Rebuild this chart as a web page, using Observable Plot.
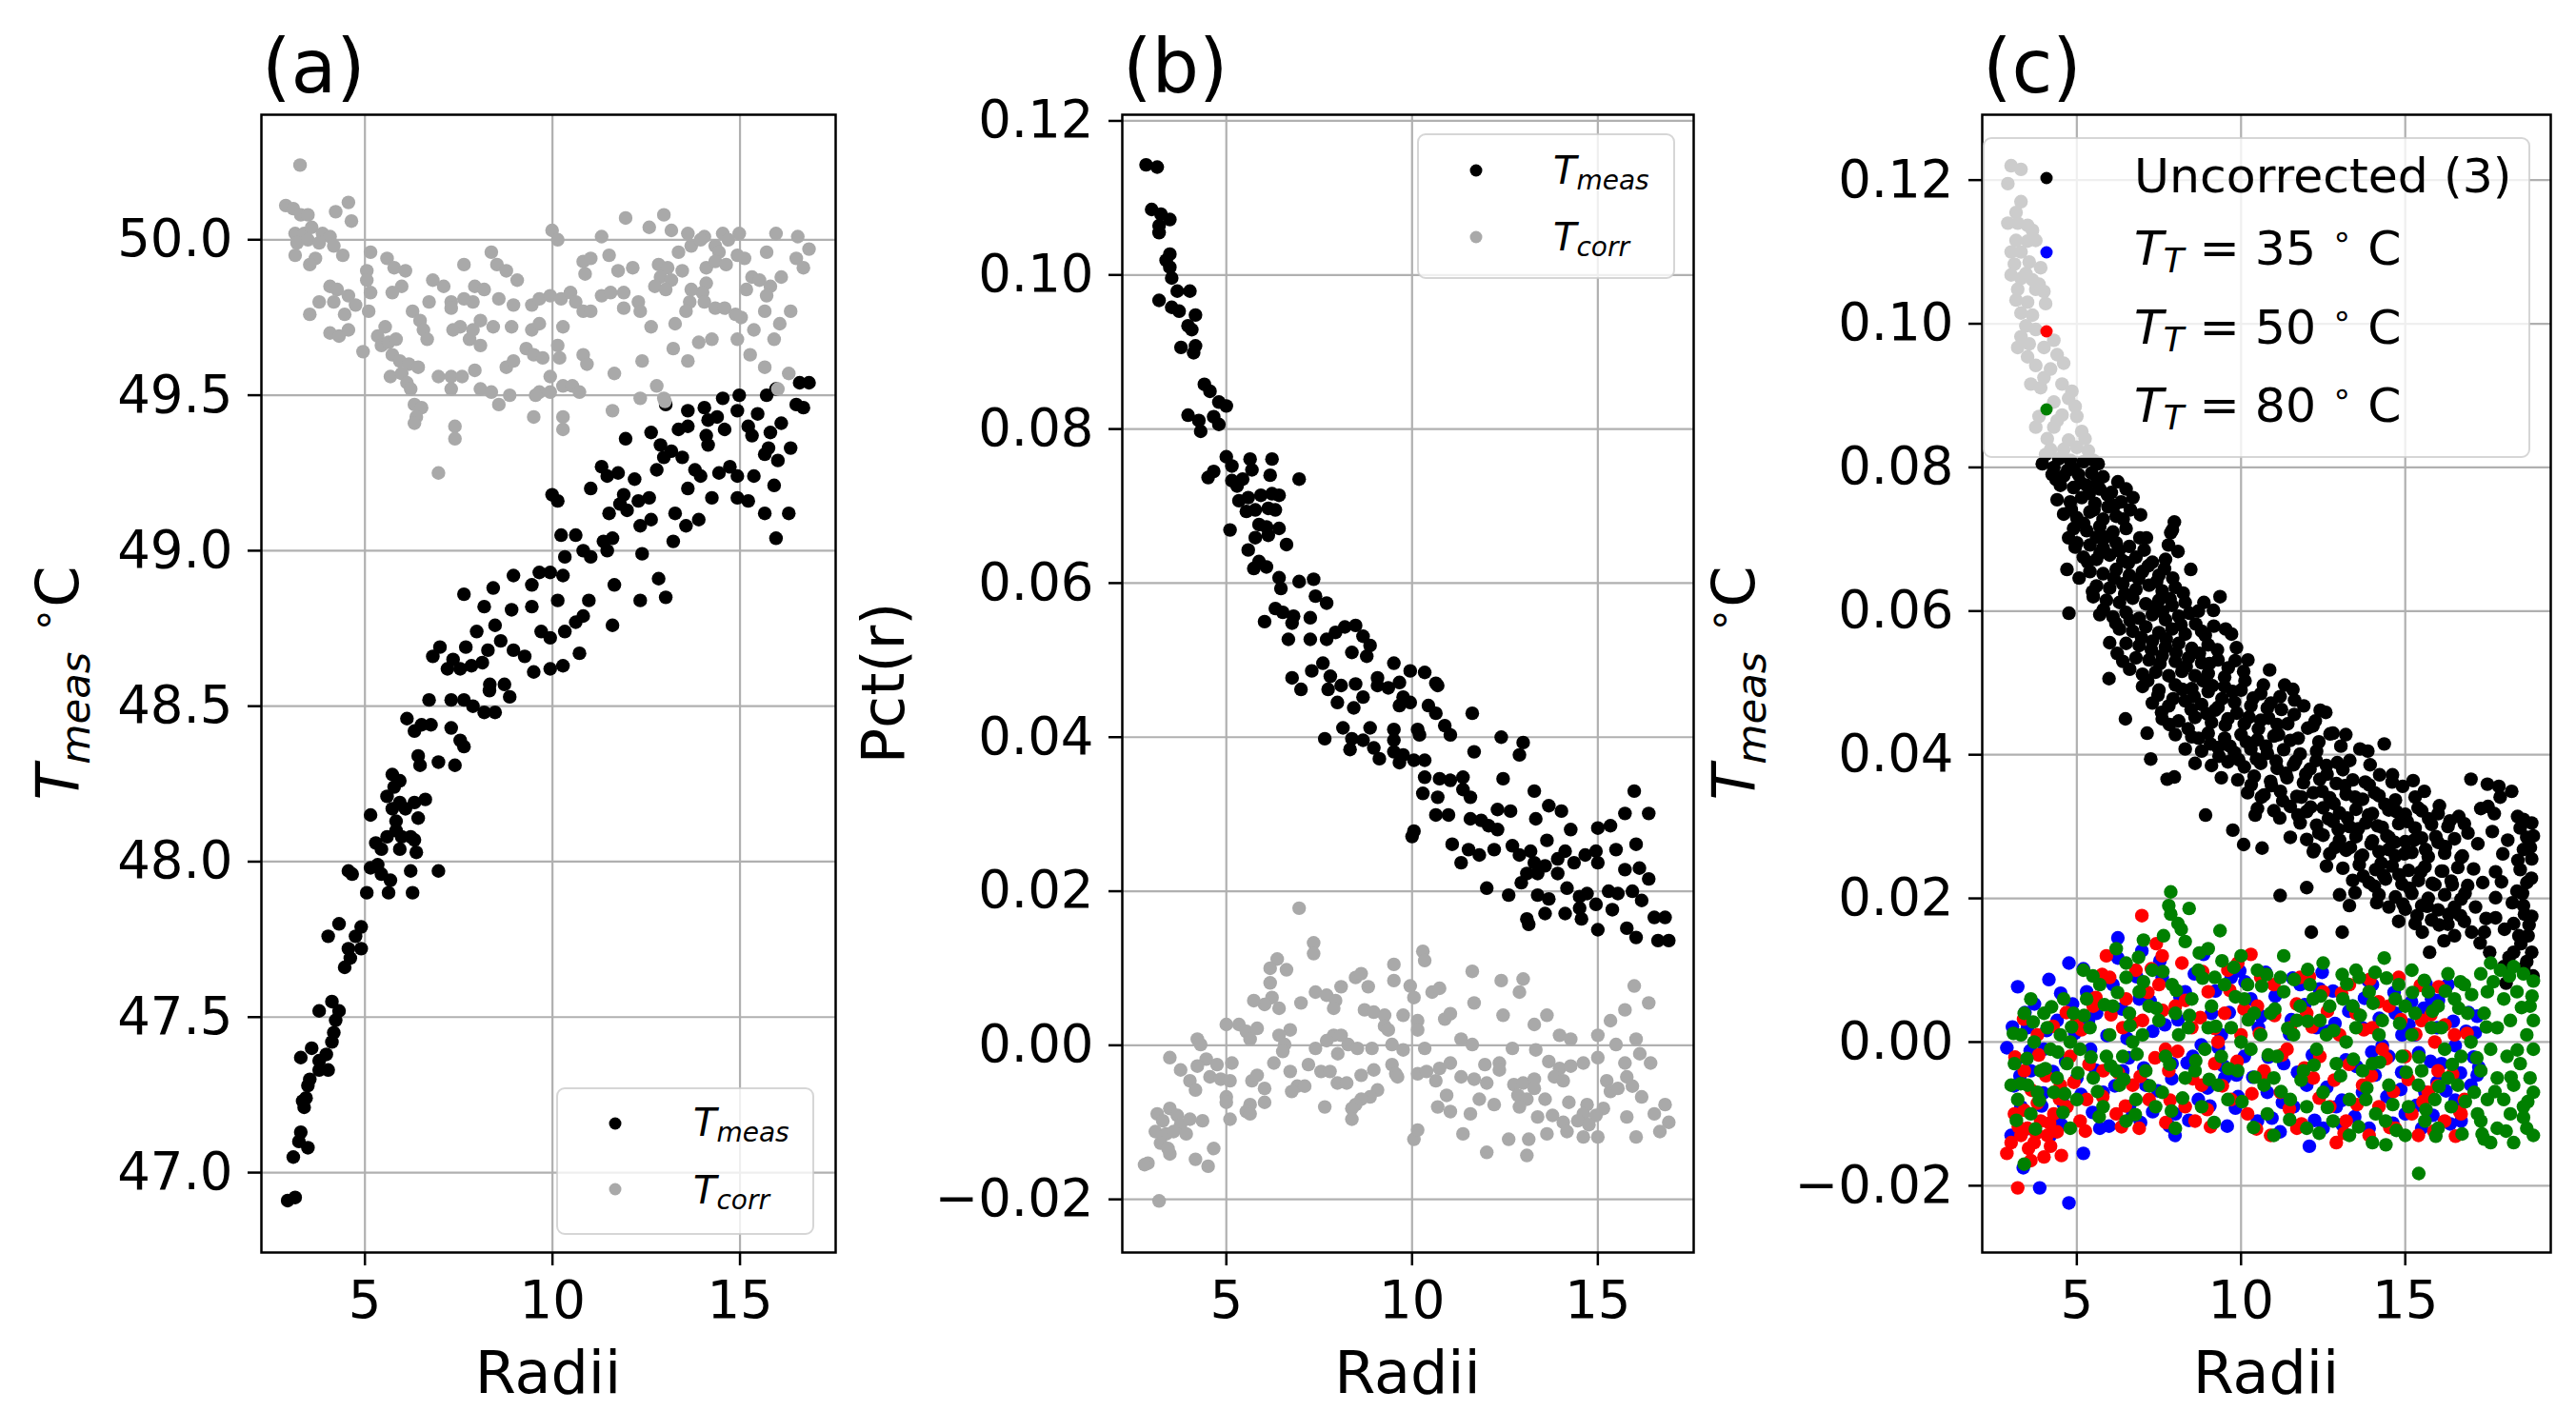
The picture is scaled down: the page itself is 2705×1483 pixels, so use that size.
<!DOCTYPE html>
<html><head><meta charset="utf-8">
<script src="https://cdn.jsdelivr.net/npm/d3@7"></script>
<script src="https://cdn.jsdelivr.net/npm/@observablehq/plot@0.6"></script>
<style>
html,body{margin:0;padding:0;background:#fff;}
#wrap{position:relative;width:2705px;height:1483px;background:#fff;overflow:hidden;}
.panel{position:absolute;top:0;}
</style>
</head><body><div id="wrap"></div>
<script>
// ---------- tick values ----------
const radiiTicks = [5, 10, 15];
const tempTicks = [47.0, 47.5, 48.0, 48.5, 49.0, 49.5, 50.0];
const pctTicks = [-0.02, 0.00, 0.02, 0.04, 0.06, 0.08, 0.10, 0.12];

// ---------- panel (a): T_meas and T_corr vs radius ----------
const aMeas = [[2.94,46.91],[3.14,46.92],[3.09,47.05],[3.24,47.10],[3.29,47.13],[3.48,47.08],[3.34,47.23],[3.38,47.21],[3.43,47.24],[3.48,47.28],[3.53,47.30],[3.29,47.37],[3.58,47.40],[3.78,47.36],[3.78,47.33],[4.02,47.33],[3.97,47.38],[4.12,47.42],[4.17,47.45],[4.22,47.49],[4.31,47.52],[3.78,47.52],[4.12,47.55],[4.46,47.66],[4.61,47.69],[4.56,47.72],[4.90,47.72],[4.75,47.76],[4.31,47.80],[4.02,47.76],[4.90,47.79],[4.56,47.97],[4.66,47.96],[5.05,47.90],[5.15,47.98],[5.34,47.99],[5.44,47.96],[5.63,47.90],[5.68,47.94],[6.22,47.97],[6.27,47.90],[6.96,47.97],[5.15,48.15],[5.29,48.06],[5.44,48.04],[5.59,48.08],[5.93,48.04],[5.98,48.08],[6.22,48.08],[6.32,48.07],[6.37,48.03],[5.83,48.10],[5.59,48.21],[5.73,48.17],[5.83,48.13],[6.08,48.17],[6.32,48.19],[6.42,48.14],[6.61,48.20],[5.93,48.19],[5.73,48.28],[5.93,48.26],[5.78,48.24],[6.42,48.34],[6.47,48.31],[6.96,48.32],[7.40,48.31],[6.32,48.42],[6.51,48.44],[6.76,48.44],[7.30,48.43],[7.54,48.39],[7.64,48.37],[6.12,48.46],[6.71,48.52],[7.30,48.52],[7.64,48.52],[7.88,48.50],[8.18,48.48],[8.47,48.48],[8.32,48.55],[8.86,48.53],[8.72,48.57],[8.33,48.57],[6.81,48.66],[7.00,48.69],[7.20,48.62],[7.35,48.65],[7.54,48.62],[7.69,48.69],[7.84,48.63],[8.13,48.64],[8.28,48.68],[7.98,48.74],[8.47,48.76],[8.62,48.71],[8.96,48.68],[9.26,48.66],[9.50,48.61],[9.94,48.62],[10.28,48.63],[9.70,48.74],[9.94,48.72],[10.33,48.74],[10.62,48.77],[10.72,48.67],[7.64,48.86],[8.18,48.82],[8.42,48.88],[8.91,48.81],[8.96,48.92],[9.45,48.89],[9.45,48.82],[9.65,48.93],[9.94,48.93],[10.14,48.84],[10.28,48.92],[10.97,48.84],[10.82,48.79],[11.65,48.89],[12.34,48.84],[12.83,48.91],[13.02,48.85],[11.60,48.76],[10.23,49.05],[10.62,49.05],[10.82,49.00],[10.33,48.98],[11.02,48.98],[11.36,49.03],[11.46,49.00],[11.60,49.04],[12.39,48.99],[12.34,49.08],[12.63,49.10],[13.22,49.03],[13.56,49.08],[13.90,49.10],[12.58,49.17],[11.99,49.13],[11.80,49.15],[11.51,49.12],[11.90,49.18],[12.19,49.23],[9.99,49.18],[10.14,49.16],[11.02,49.20],[11.31,49.27],[11.46,49.24],[11.75,49.25],[12.63,49.38],[11.95,49.36],[12.88,49.34],[12.97,49.30],[13.17,49.32],[12.78,49.26],[13.46,49.30],[13.61,49.20],[13.80,49.26],[13.95,49.24],[14.25,49.17],[14.44,49.25],[14.73,49.27],[14.93,49.24],[14.93,49.17],[15.22,49.16],[15.37,49.24],[15.66,49.12],[15.91,49.21],[15.96,49.04],[16.30,49.12],[15.66,49.31],[15.76,49.33],[16.01,49.29],[16.35,49.33],[15.81,49.38],[16.10,49.41],[15.47,49.44],[15.71,49.50],[15.96,49.52],[16.59,49.54],[16.84,49.54],[16.50,49.47],[16.69,49.46],[13.02,49.47],[13.61,49.45],[14.05,49.46],[14.54,49.49],[14.98,49.50],[14.93,49.45],[14.39,49.43],[14.15,49.42],[13.36,49.39],[13.61,49.40],[14.59,49.39],[15.22,49.40],[15.32,49.37],[14.10,49.37],[14.15,49.34],[13.27,49.12],[12.29,49.16]];
const aCorr = [[3.27,50.24],[2.89,50.11],[3.09,50.10],[3.29,50.08],[3.48,50.08],[4.22,50.09],[4.56,50.12],[4.64,50.06],[3.14,50.02],[3.38,50.02],[3.58,50.04],[3.87,50.02],[4.07,50.01],[3.19,49.99],[3.48,50.00],[3.78,49.99],[4.17,49.98],[4.41,49.95],[3.14,49.95],[3.68,49.94],[3.53,49.92],[5.15,49.96],[5.59,49.94],[5.78,49.91],[6.08,49.90],[5.05,49.90],[5.05,49.87],[5.98,49.85],[5.73,49.83],[4.07,49.85],[4.26,49.84],[4.17,49.80],[4.56,49.82],[5.15,49.83],[4.75,49.79],[3.78,49.80],[3.53,49.76],[4.46,49.76],[5.10,49.77],[4.07,49.70],[4.31,49.69],[4.56,49.71],[8.37,49.96],[8.52,49.92],[8.77,49.90],[9.06,49.87],[7.64,49.92],[6.81,49.87],[7.10,49.85],[6.71,49.80],[6.27,49.77],[6.47,49.74],[7.93,49.85],[8.18,49.84],[7.88,49.80],[7.30,49.80],[7.64,49.81],[7.30,49.78],[8.57,49.81],[8.96,49.79],[8.08,49.74],[7.88,49.71],[8.42,49.72],[7.54,49.72],[7.35,49.71],[8.91,49.72],[9.45,49.71],[9.65,49.73],[10.28,49.72],[6.56,49.71],[6.66,49.68],[7.79,49.68],[8.08,49.66],[9.45,49.79],[9.65,49.81],[9.94,49.82],[10.23,49.81],[10.48,49.83],[10.62,49.80],[10.82,49.77],[11.02,49.77],[10.82,49.93],[11.02,49.94],[10.87,49.89],[11.31,50.01],[11.51,49.95],[11.75,49.90],[12.14,49.91],[9.99,50.03],[10.14,50.00],[11.95,50.07],[11.31,49.82],[11.55,49.83],[11.90,49.83],[12.29,49.80],[11.90,49.78],[12.34,49.77],[5.54,49.72],[5.34,49.69],[5.44,49.66],[5.63,49.67],[5.83,49.68],[4.95,49.64],[5.73,49.63],[5.93,49.61],[6.17,49.60],[6.42,49.59],[5.68,49.56],[5.98,49.57],[6.12,49.54],[6.22,49.52],[6.32,49.47],[6.51,49.46],[6.37,49.43],[6.32,49.41],[6.96,49.56],[7.30,49.56],[7.59,49.56],[7.93,49.58],[7.30,49.52],[8.08,49.52],[8.37,49.51],[8.57,49.47],[8.86,49.50],[7.40,49.40],[7.40,49.36],[6.96,49.25],[8.77,49.59],[8.96,49.61],[9.30,49.65],[9.50,49.63],[9.74,49.62],[10.14,49.66],[10.19,49.62],[9.94,49.56],[9.65,49.51],[9.55,49.50],[9.94,49.51],[10.28,49.53],[10.53,49.53],[10.72,49.51],[9.50,49.43],[10.28,49.43],[10.28,49.39],[10.82,49.63],[10.92,49.60],[11.65,49.57],[11.60,49.45],[12.39,49.61],[12.34,49.49],[12.78,49.53],[12.97,49.49],[13.00,49.48],[12.58,50.04],[12.97,50.08],[13.17,50.03],[13.61,50.02],[14.05,50.01],[14.54,50.02],[14.98,50.02],[15.96,50.02],[16.54,50.01],[16.84,49.97],[13.36,49.96],[13.70,49.98],[13.95,50.00],[14.34,49.98],[14.44,49.96],[14.69,50.00],[14.93,49.95],[15.12,49.94],[15.71,49.96],[16.50,49.94],[16.69,49.91],[12.83,49.92],[13.07,49.91],[13.46,49.90],[12.88,49.88],[13.17,49.87],[12.73,49.85],[13.02,49.84],[14.10,49.91],[14.34,49.93],[14.63,49.92],[15.32,49.88],[15.52,49.87],[15.81,49.85],[16.10,49.88],[14.10,49.86],[14.00,49.83],[13.70,49.84],[13.66,49.80],[13.56,49.77],[14.05,49.80],[14.34,49.78],[14.59,49.78],[14.88,49.76],[15.03,49.75],[15.17,49.84],[15.71,49.82],[15.66,49.77],[16.35,49.77],[16.06,49.73],[15.37,49.71],[15.91,49.68],[14.93,49.68],[14.25,49.68],[13.90,49.67],[13.27,49.73],[13.22,49.65],[13.61,49.61],[12.63,49.72],[15.27,49.63],[15.66,49.59],[16.30,49.57],[16.01,49.52]];

// ---------- panel (b): Pct(r) ----------
const bMeas = [[2.84,0.1143],[3.14,0.1140],[2.99,0.1085],[3.24,0.1079],[3.48,0.1072],[3.19,0.1055],[3.19,0.1064],[3.48,0.1027],[3.38,0.1019],[3.48,0.1010],[3.53,0.0996],[3.19,0.0967],[3.68,0.0979],[4.02,0.0979],[3.53,0.0958],[3.73,0.0953],[4.17,0.0948],[3.97,0.0934],[4.07,0.0929],[3.78,0.0906],[4.17,0.0908],[4.12,0.0899],[4.41,0.0858],[4.56,0.0849],[4.80,0.0835],[5.00,0.0830],[3.97,0.0818],[4.26,0.0811],[4.66,0.0816],[4.80,0.0806],[4.31,0.0797],[4.51,0.0737],[4.66,0.0745],[5.00,0.0764],[5.15,0.0752],[5.64,0.0761],[6.23,0.0761],[5.69,0.0747],[6.18,0.0740],[6.96,0.0735],[5.15,0.0733],[5.29,0.0726],[5.44,0.0735],[5.34,0.0707],[5.59,0.0711],[5.93,0.0714],[6.23,0.0716],[6.42,0.0714],[5.54,0.0693],[5.78,0.0695],[6.13,0.0697],[6.32,0.0695],[5.10,0.0669],[5.88,0.0676],[6.08,0.0673],[6.42,0.0671],[5.78,0.0659],[6.13,0.0662],[6.62,0.0650],[5.59,0.0643],[5.88,0.0628],[5.74,0.0619],[6.08,0.0621],[6.42,0.0607],[6.47,0.0593],[6.96,0.0602],[7.35,0.0605],[7.40,0.0583],[7.70,0.0574],[6.32,0.0567],[6.52,0.0562],[6.81,0.0557],[6.03,0.0550],[7.26,0.0555],[6.77,0.0548],[6.67,0.0527],[7.26,0.0527],[7.70,0.0527],[7.94,0.0536],[8.19,0.0543],[8.48,0.0545],[8.68,0.0531],[8.87,0.0519],[8.38,0.0510],[8.78,0.0505],[9.51,0.0496],[9.95,0.0486],[10.34,0.0484],[6.77,0.0477],[7.30,0.0486],[7.60,0.0496],[7.80,0.0479],[9.07,0.0477],[10.64,0.0470],[7.01,0.0462],[7.74,0.0462],[8.09,0.0467],[8.48,0.0469],[9.07,0.0467],[9.36,0.0464],[9.66,0.0471],[10.69,0.0467],[7.99,0.0445],[8.43,0.0438],[8.68,0.0452],[9.76,0.0452],[9.66,0.0441],[9.95,0.0445],[10.44,0.0441],[10.64,0.0431],[11.62,0.0431],[8.14,0.0412],[8.87,0.0412],[9.51,0.0410],[7.65,0.0398],[8.38,0.0398],[8.68,0.0396],[9.51,0.0396],[10.15,0.0410],[10.20,0.0403],[10.88,0.0415],[11.03,0.0403],[12.40,0.0400],[12.99,0.0393],[8.33,0.0384],[8.97,0.0386],[9.12,0.0372],[9.51,0.0381],[9.66,0.0367],[9.76,0.0377],[10.05,0.0370],[10.34,0.0370],[11.67,0.0381],[12.89,0.0377],[10.34,0.0348],[10.74,0.0346],[11.03,0.0344],[11.37,0.0348],[12.45,0.0346],[10.29,0.0327],[10.69,0.0322],[11.37,0.0332],[11.57,0.0322],[13.29,0.0330],[15.98,0.0330],[10.64,0.0299],[10.98,0.0299],[11.57,0.0294],[11.86,0.0292],[12.06,0.0285],[12.30,0.0306],[12.65,0.0304],[12.30,0.0280],[13.33,0.0294],[13.68,0.0311],[14.02,0.0304],[14.27,0.0280],[15.00,0.0282],[15.34,0.0285],[15.73,0.0301],[16.37,0.0301],[10.05,0.0278],[10.00,0.0271],[11.08,0.0261],[11.52,0.0254],[11.81,0.0247],[12.21,0.0254],[11.32,0.0237],[12.70,0.0259],[12.89,0.0247],[13.19,0.0252],[13.63,0.0266],[13.29,0.0237],[13.58,0.0233],[13.92,0.0242],[14.12,0.0252],[14.36,0.0237],[14.66,0.0247],[14.95,0.0252],[15.00,0.0237],[15.49,0.0254],[16.03,0.0261],[13.09,0.0223],[13.38,0.0223],[13.92,0.0223],[15.73,0.0228],[16.12,0.0230],[16.37,0.0216],[12.01,0.0204],[12.60,0.0195],[12.94,0.0211],[13.38,0.0195],[13.68,0.0190],[14.17,0.0204],[14.51,0.0193],[14.71,0.0197],[15.29,0.0200],[15.54,0.0197],[15.93,0.0200],[16.18,0.0188],[14.51,0.0178],[14.95,0.0183],[15.39,0.0176],[13.58,0.0171],[14.12,0.0171],[14.56,0.0164],[15.00,0.0150],[13.09,0.0164],[13.14,0.0157],[16.52,0.0166],[16.81,0.0166],[15.78,0.0152],[16.03,0.0140],[16.62,0.0136],[16.91,0.0136]];
const bCorr = [[6.96,0.0178],[7.35,0.0133],[7.35,0.0119],[6.37,0.0112],[6.62,0.0098],[6.18,0.0100],[6.18,0.0081],[6.23,0.0062],[6.03,0.0053],[5.74,0.0058],[6.42,0.0048],[9.51,0.0105],[10.29,0.0122],[10.34,0.0110],[11.62,0.0096],[12.40,0.0084],[12.99,0.0086],[12.89,0.0069],[15.98,0.0077],[8.09,0.0076],[8.48,0.0088],[8.63,0.0093],[8.82,0.0076],[7.01,0.0055],[7.40,0.0069],[7.70,0.0065],[7.94,0.0058],[7.89,0.0048],[9.51,0.0084],[9.95,0.0077],[10.05,0.0062],[10.54,0.0069],[10.74,0.0074],[11.67,0.0055],[16.37,0.0055],[8.72,0.0046],[8.97,0.0043],[9.26,0.0039],[9.76,0.0039],[10.88,0.0034],[11.03,0.0041],[12.45,0.0039],[13.63,0.0039],[13.29,0.0027],[15.73,0.0046],[15.34,0.0032],[5.00,0.0027],[5.34,0.0027],[5.54,0.0018],[5.83,0.0022],[5.64,0.0008],[9.26,0.0025],[9.36,0.0020],[10.15,0.0032],[10.15,0.0020],[6.72,0.0020],[6.42,0.0013],[6.57,0.0001],[6.52,-0.0008],[7.89,0.0013],[8.09,0.0013],[7.70,0.0006],[8.28,0.0001],[7.40,-0.0004],[8.00,-0.0011],[8.53,-0.0004],[8.92,-0.0004],[9.46,0.0001],[9.76,-0.0006],[10.34,-0.0004],[11.32,0.0008],[11.62,0.0001],[12.70,-0.0004],[13.33,-0.0006],[13.97,0.0013],[14.27,0.0008],[15.00,0.0013],[15.49,0.0001],[16.03,0.0008],[16.13,-0.0011],[15.00,-0.0016],[15.73,-0.0023],[16.42,-0.0023],[4.22,0.0008],[4.31,0.0001],[3.48,-0.0016],[4.46,-0.0018],[3.77,-0.0032],[4.22,-0.0027],[4.75,-0.0025],[5.15,-0.0023],[6.28,-0.0023],[7.21,-0.0025],[7.55,-0.0034],[6.72,-0.0034],[7.79,-0.0034],[8.97,-0.0032],[9.46,-0.0025],[9.56,-0.0037],[9.61,-0.0041],[10.15,-0.0037],[10.39,-0.0034],[10.74,-0.0030],[11.03,-0.0023],[11.96,-0.0025],[12.35,-0.0023],[12.35,-0.0032],[13.68,-0.0021],[13.97,-0.0030],[14.27,-0.0027],[14.61,-0.0023],[4.02,-0.0046],[4.17,-0.0058],[4.56,-0.0041],[4.85,-0.0044],[5.10,-0.0046],[5.69,-0.0046],[5.83,-0.0039],[6.03,-0.0056],[6.91,-0.0053],[7.11,-0.0053],[6.76,-0.0060],[7.99,-0.0049],[8.24,-0.0049],[8.63,-0.0039],[10.64,-0.0046],[11.32,-0.0041],[11.67,-0.0044],[12.01,-0.0049],[12.74,-0.0051],[12.99,-0.0049],[13.29,-0.0044],[13.83,-0.0041],[14.07,-0.0046],[15.24,-0.0046],[15.78,-0.0041],[15.34,-0.0060],[15.54,-0.0056],[15.93,-0.0053],[16.18,-0.0067],[5.00,-0.0067],[5.00,-0.0074],[6.03,-0.0074],[5.64,-0.0077],[5.54,-0.0086],[9.07,-0.0058],[8.87,-0.0067],[8.63,-0.0070],[8.48,-0.0077],[8.38,-0.0082],[7.65,-0.0080],[8.38,-0.0096],[10.93,-0.0065],[10.69,-0.0080],[11.03,-0.0086],[11.57,-0.0089],[11.81,-0.0070],[12.21,-0.0077],[12.85,-0.0065],[13.09,-0.0070],[12.89,-0.0080],[13.58,-0.0070],[13.29,-0.0056],[14.22,-0.0074],[14.71,-0.0077],[14.61,-0.0089],[15.15,-0.0082],[14.95,-0.0091],[16.81,-0.0077],[16.52,-0.0089],[15.78,-0.0093],[13.38,-0.0093],[13.78,-0.0091],[14.07,-0.0100],[14.46,-0.0098],[14.76,-0.0103],[16.91,-0.0100],[16.67,-0.0112],[13.63,-0.0115],[14.17,-0.0112],[14.61,-0.0119],[15.00,-0.0119],[16.03,-0.0119],[11.37,-0.0115],[12.60,-0.0122],[13.14,-0.0122],[10.05,-0.0122],[10.15,-0.0110],[12.01,-0.0139],[13.09,-0.0143],[3.14,-0.0089],[3.48,-0.0082],[3.68,-0.0091],[3.29,-0.0098],[3.77,-0.0103],[4.02,-0.0096],[4.36,-0.0098],[3.09,-0.0112],[3.38,-0.0115],[3.58,-0.0112],[3.92,-0.0115],[3.23,-0.0127],[3.48,-0.0141],[3.43,-0.0134],[4.66,-0.0134],[4.17,-0.0148],[4.51,-0.0157],[2.89,-0.0153],[2.80,-0.0155],[3.19,-0.0202],[5.10,-0.0096],[5.64,-0.0089]];

// ---------- panel (c): uncorrected and corrected with three T_T ----------
const cUncorrected = [[3.0,.122],[3.3,.1215],[2.9,.1195],[3.3,.117],[3.15,.1155],[2.9,.114],[3.2,.114],[3.5,.1137],[3.65,.113],[3.75,.1116],[3.15,.1116],[3.0,.110],[3.3,.110],[3.5,.1115],[3.1,.1083],[3.55,.1086],[3.9,.1078],[3.0,.1068],[3.3,.1063],[3.65,.1061],[3.2,.1048],[3.75,.1048],[4.0,.1045],[3.15,.1033],[3.5,.103],[4.05,.1028],[3.3,.1015],[3.65,.1012],[3.85,.1055],[3.45,.107],[3.45,.0997],[3.75,.0992],[3.3,.0982],[4.3,.0977],[3.55,.0972],[3.2,.0967],[4.0,.0967],[4.4,.0957],[3.5,.0954],[3.75,.0942],[4.2,.0937],[3.6,.0916],[3.9,.0911],[4.55,.0916],[4.85,.0906],[4.75,.0896],[4.3,.0891],[4.0,.0925],[4.6,.0945],[3.85,.0871],[4.55,.0873],[5.0,.0871],[3.75,.0856],[4.3,.0856],[5.15,.085],[4.1,.084],[4.75,.0838],[5.25,.084],[4.2,.0825],[4.6,.0825],[5.0,.0828],[5.35,.0823],[4.05,.0818],[4.45,.0812],[4.8,.081],[5.2,.0808],[5.5,.081],[3.95,.0805],[4.3,.080],[4.9,.0798],[5.65,.0805],[4.4,.0865],[4.95,.0885],
[4.25,.079],[4.6,.0788],[5.05,.079],[5.45,.0792],[5.8,.0787],[6.25,.078],[4.5,.0775],[4.9,.0772],[5.3,.0775],[5.7,.077],[6.05,.0765],[6.5,.077],[4.4,.0755],[4.8,.0752],[5.15,.0758],[5.55,.075],[5.95,.0745],[6.35,.0752],[4.6,.0735],[5.0,.073],[5.4,.0738],[5.8,.0728],[6.2,.0732],[6.94,.0734],[4.9,.0715],[5.3,.0712],[5.7,.0718],[6.1,.071],[6.5,.0715],[7.97,.0724],[7.86,.0709],[4.75,.0702],[5.6,.0703],
[5.0,.0695],[5.4,.0692],[5.8,.0688],[6.2,.0695],[6.6,.069],[7.05,.0685],[8.08,.0683],[5.2,.0675],[5.6,.0672],[6.0,.0678],[6.4,.067],[6.8,.0675],[7.3,.0668],[7.7,.0672],[4.7,.0658],[5.4,.0655],[5.8,.0652],[6.2,.0658],[6.6,.065],[7.0,.0655],[7.5,.065],[8.47,.0658],[5.6,.0635],[6.0,.0632],[6.4,.0638],[6.8,.063],[7.2,.0636],[7.6,.0628],[8.0,.0633],[5.9,.0615],[6.3,.0612],[6.7,.0618],[7.1,.061],[7.5,.0615],[7.9,.0608],[9.36,.062],[8.3,.0612],[5.5,.062],
[4.76,.0597],[5.7,.0595],[6.1,.0592],[6.5,.0598],[6.9,.059],[7.3,.0595],[7.7,.0588],[8.1,.0593],[8.7,.060],[6.3,.0575],[6.7,.0572],[7.1,.0578],[7.5,.057],[7.9,.0575],[8.3,.0568],[9.53,.0575],[8.8,.0572],[6.0,.0556],[6.5,.0555],[6.9,.0552],[7.3,.0558],[7.7,.055],[8.1,.0555],[8.5,.0548],[9.0,.0553],[9.86,.0549],[6.8,.0535],[7.2,.0532],[7.6,.0538],[8.0,.053],[8.4,.0535],[8.8,.0528],[9.3,.0532],[6.4,.053],[5.98,.0506],[7.0,.0512],[7.4,.0515],[7.8,.051],[8.2,.0516],[8.6,.051],[9.0,.0513],[9.5,.0508],[10.08,.0516],
[6.48,.045],[7.0,.0495],[7.5,.049],[8.0,.0497],[8.5,.0492],[9.0,.0488],[9.5,.0495],[10.0,.049],[10.6,.0485],[11.19,.0481],[11.58,.0491],[11.63,.0476],[7.3,.0472],[7.8,.0468],[8.3,.0475],[8.8,.047],[9.3,.0466],[9.8,.0473],[10.3,.0468],[10.8,.0465],[7.14,.043],[7.6,.045],[8.1,.0447],[8.6,.0452],[9.1,.0445],[9.6,.045],[10.1,.0443],[10.6,.0448],[11.1,.0442],[12.19,.044],[8.0,.0428],[8.5,.0425],[9.0,.043],[9.5,.0423],[10.0,.0428],[10.5,.0421],[11.0,.0426],[11.5,.042],[12.8,.043],[13.19,.0428],[8.3,.0408],[8.8,.0405],[9.3,.041],[9.8,.0403],[10.3,.0408],[10.8,.0402],[11.3,.0407],[11.8,.0401],[12.3,.0405],[13.86,.0405],[14.36,.0415],
[7.25,.0394],[8.6,.0388],[9.1,.0385],[9.6,.039],[10.1,.0383],[10.6,.0388],[11.1,.0381],[11.6,.0386],[12.1,.038],[12.6,.0385],[13.1,.0379],[7.75,.0366],[7.97,.0369],[9.4,.0368],[9.9,.0365],[10.4,.037],[10.9,.0363],[11.4,.0368],[11.9,.0361],[12.4,.0366],[12.9,.036],[13.4,.0365],[13.9,.0358],[14.6,.0362],[17.0,.0366],[17.5,.0359],[17.85,.0356],[10.2,.0347],[10.7,.0344],[11.2,.0349],[11.7,.0342],[12.2,.0347],[12.7,.034],[13.2,.0345],[13.7,.0338],[14.2,.0343],[14.7,.0337],[15.3,.0341],[8.92,.0316],[9.75,.0295],[10.5,.0325],[11.0,.0322],[11.5,.0328],[12.0,.0321],[12.5,.0326],[13.0,.0319],[13.5,.0324],[14.0,.0318],[14.5,.0323],[15.0,.0317],[15.5,.0322],[16.0,.0318],[17.3,.0325],[17.52,.0328],[18.6,.031],[18.85,.0305],[11.8,.0305],[12.3,.0302],[12.8,.0307],[13.3,.030],[13.8,.0305],[14.3,.0299],[14.8,.0304],[15.3,.0298],[15.8,.0303],[16.3,.030],[16.8,.0304],[18.5,.0298],
[10.08,.0275],[10.64,.027],[11.5,.0285],[12.0,.0282],[12.5,.0288],[13.0,.0281],[13.5,.0286],[14.0,.028],[14.5,.0285],[15.0,.0279],[15.5,.0284],[16.0,.0278],[16.5,.0283],[17.65,.0293],[18.7,.0285],[12.2,.0265],[12.7,.0262],[13.2,.0267],[13.7,.026],[14.2,.0265],[14.7,.0259],[15.2,.0264],[15.7,.0258],[16.2,.0263],[16.7,.0257],[17.97,.0262],[18.6,.0268],[18.85,.0255],[12.6,.0245],[13.1,.0242],[13.6,.0247],[14.1,.024],[14.6,.0245],[15.1,.0239],[15.6,.0244],[16.1,.0238],[16.6,.0243],[17.75,.0237],[18.5,.024],[11.19,.0204],[12.0,.0215],[13.4,.0225],[13.9,.0222],[14.4,.0227],[14.9,.022],[15.4,.0225],[15.9,.0219],[16.4,.0224],[16.9,.0218],[18.7,.0222],[13.0,.0205],[14.2,.0205],[14.7,.0202],[15.2,.0207],[15.7,.020],[16.2,.0205],[16.7,.0199],[17.75,.0201],[18.4,.021],
[12.14,.0153],[13.08,.0153],[13.3,.019],[14.5,.0188],[15.0,.0185],[15.5,.019],[16.0,.0184],[16.5,.0188],[18.6,.019],[14.8,.0168],[15.3,.0165],[15.8,.017],[16.3,.0164],[16.8,.0168],[17.75,.0173],[18.3,.0165],[18.63,.0178],[15.74,.0125],[16.5,.0148],[17.41,.0153],[18.52,.0137],[18.74,.0148],[17.57,.0125],[18.7,.0112],[18.07,.0082],[18.85,.0175],[18.85,.0125],[18.3,.0125],[18.0,.0105],
[4.37,.0783],[4.72,.0796],[5.12,.0779],[5.38,.0764],[4.83,.0741],[5.21,.0722],[5.52,.0741],[4.95,.0689],[5.33,.0668],[5.71,.0681],[5.07,.0646],[5.48,.0627],[5.62,.0779],[5.93,.0762],[6.14,.0747],[6.41,.0728],[6.63,.0741],[5.87,.0703],[6.28,.0684],[6.57,.0667],[6.92,.0702],[6.13,.0646],[6.46,.0624],[6.88,.0645],[5.81,.0602],[6.19,.0583],[6.62,.0587],[6.97,.0563],[6.23,.0541],[6.61,.0519],[7.12,.0702],[6.71,.0758],[7.18,.0663],[7.43,.0641],[7.67,.0659],[7.92,.0646],[8.24,.0625],[7.36,.0606],[7.61,.0599],[7.84,.0617],[8.17,.0581],[8.43,.0597],[7.27,.0546],[7.53,.0527],[7.72,.0561],[8.02,.0542],[8.33,.0523],[7.16,.0503],[7.47,.0483],[7.93,.0478],[8.21,.0491],[8.48,.0463],[7.58,.0459],[7.82,.0442],[8.39,.0436],[7.91,.0713],[7.79,.0692],[8.62,.0582],[8.91,.0566],[9.17,.0579],[8.73,.0541],[9.04,.0527],[9.28,.0546],[9.61,.0521],[8.84,.0503],[9.13,.0496],[9.42,.0478],[9.74,.0488],[8.57,.0481],[8.96,.0457],[9.21,.0462],[9.52,.0441],[9.87,.0458],[8.71,.0423],[9.07,.0415],[9.33,.0398],[9.66,.0412],[9.93,.0393],[9.16,.0601],[8.87,.0612],[9.71,.0568],[9.82,.0531],[10.12,.0503],[10.37,.0479],[10.68,.0497],[10.91,.0472],[11.23,.0463],[10.24,.0452],[10.53,.0436],[10.84,.0451],[11.14,.0428],[11.42,.0443],[10.16,.0418],[10.47,.0394],[10.76,.0412],[11.07,.0391],[11.36,.0374],[10.31,.0358],[10.62,.0341],[10.93,.0357],[11.27,.0336],[10.43,.0316],[11.18,.0312],[10.21,.0532],[10.87,.0518],[11.33,.0497],[11.62,.0456],[11.91,.0468],[12.26,.0447],[12.58,.0459],[11.74,.0423],[12.03,.0437],[12.37,.0418],[12.71,.0429],[11.66,.0391],[11.97,.0373],[12.29,.0392],[12.62,.0373],[12.93,.0389],[11.84,.0341],[12.12,.0327],[12.47,.0349],[12.83,.0332],[11.73,.0316],[12.37,.0291],[12.66,.0311],[12.96,.0296],[12.23,.0268],[12.87,.0271],[12.41,.0462],[13.04,.0412],[13.31,.0392],[13.62,.0408],[13.93,.0386],[14.22,.0372],[13.16,.0357],[13.47,.0341],[13.78,.0362],[14.07,.0347],[14.38,.0331],[13.24,.0312],[13.57,.0297],[13.88,.0316],[14.16,.0301],[14.44,.0287],[13.33,.0271],[13.64,.0258],[13.96,.0276],[14.27,.0249],[14.49,.0268],[13.72,.0231],[14.06,.0217],[14.34,.0232],[13.47,.0208],[14.13,.0194],[14.61,.0372],[14.92,.0356],[15.24,.0364],[15.58,.0349],[14.73,.0321],[15.06,.0307],[15.39,.0326],[15.71,.0311],[16.04,.0329],[16.36,.0308],[14.68,.0278],[14.97,.0262],[15.27,.0281],[15.62,.0268],[15.93,.0286],[16.22,.0272],[14.81,.0233],[15.13,.0214],[15.47,.0237],[15.82,.0221],[16.14,.0238],[16.43,.0219],[14.93,.0192],[15.36,.0176],[15.67,.0189],[16.03,.0163],[16.32,.0178],[15.52,.0153],[16.18,.0141],[16.63,.0314],[16.91,.0291],[17.21,.0276],[16.74,.0259],[17.08,.0241],[17.36,.0222],[16.82,.0207],[17.14,.0188],[17.46,.0172],[16.68,.0176],[17.02,.0153],[17.28,.0138],[17.71,.0318],[18.12,.0281],[18.43,.0253],[18.81,.0271],[17.93,.0223],[18.26,.0194],[18.57,.0207],[18.84,.0228],[18.02,.0157],[18.46,.0148],[18.77,.0163],[18.16,.0118],[18.61,.0103],[18.89,.0092],[18.9,.0287],[18.42,.0314],[17.89,.0341],[18.24,.0349]];
const c35 = [[3.2,.0077],[4.15,.0087],[4.76,.011],[5.2,.0102],[3.42,.0041],[4.87,.0053],[2.87,-.0008],[3.15,-.0025],[3.09,-.0061],[3.87,-.0203],[4.76,-.0224],[3.37,-.0175],[5.2,-.0155],[5.98,-.0117],[6.7,-.0102],[7.31,-.0097],[7.82,-.0117],[7.99,-.013],[9.05,-.0089],[9.83,-.0092],[6.25,.0145],[6.25,.0117],[6.98,.0127],[8.86,.0122],[10.75,.0097],[12.47,.0097],[12.8,.0071],[12.08,-.0145],[11.19,-.0125],[13.08,-.0115],[13.69,.002],[15.41,-.0015],[16.52,-.0005],[16.85,.0015],[17.19,.0036],[17.13,.0013],[17.24,-.0035],[17.19,-.0046],[16.52,-.0081],[4.53,-.0115],[4.59,-.0086],[3.98,-.0071],[5.42,-.001],[6.53,.0005],[7.31,.0015],[8.08,.0031],[8.53,-.002],[9.31,-.0008],[9.86,-.0046],[10.53,.002],[11.53,.0031],[12.64,.0015],[13.19,-.0025],[14.08,-.0046],[14.86,-.0066],[15.97,-.0056],[14.3,-.0005],[15.97,.002],[15.19,.0056],[3.6,-.004],[3.3,-.009],[4.0,-.001],[4.4,.003],[5.0,-.005],[5.6,.004],[5.8,-.007],[6.1,.008],[6.4,-.004],[6.9,.006],[7.1,-.006],[7.6,.009],[7.9,-.003],[8.3,.007],[8.7,-.008],[9.1,.004],[9.5,-.005],[9.7,.009],[10.1,-.002],[10.3,.006],[10.8,-.007],[11.0,.004],[11.3,-.003],[11.8,.008],[12.0,-.006],[12.3,.002],[12.9,-.009],[13.4,.005],[13.7,-.007],[14.0,.008],[14.5,-.002],[14.7,.004],[15.0,-.010],[15.3,.001],[15.6,-.007],[15.8,.006],[16.1,-.003],[16.3,.008],[16.7,-.011],[17.0,-.006],[3.5,.002],[4.2,-.013],[5.3,.007],[6.6,-.009],[8.0,-.010],[9.4,.001],[10.5,-.011],[11.6,-.009],[12.5,-.012],[13.9,-.012],[14.9,.001],[15.5,-.012],[3.0,-.013],[5.7,-.012],
[3.04,.0021],[3.27,-.0047],[3.58,-.0012],[3.71,.0053],[3.93,-.0089],[4.08,.0016],[4.27,-.0041],[4.51,.0068],[4.66,-.0027],[4.94,.0012],[5.13,-.0073],[5.36,.0031],[5.57,-.0039],[5.74,.0087],[5.92,.0009],[6.16,-.0061],[6.37,.0046],[6.58,-.0022],[6.82,.0091],[7.04,-.0036],[7.23,.0057],[7.47,-.0068],[7.68,.0024],[7.89,-.0051],[8.14,.0063],[8.36,-.0029],[8.58,.0095],[8.79,-.0004],[8.98,-.0064],[9.22,.0071],[9.46,-.0033],[9.64,.0041],[9.91,-.0076],[10.12,.0084],[10.36,-.0049],[10.61,.0036],[10.83,-.0021],[11.04,.0064],[11.26,-.0084],[11.48,.0011],[11.72,-.0042],[11.94,.0052],[12.17,-.0018],[12.39,.0074],[12.61,-.0063],[12.86,.0026],[13.07,-.0081],[13.28,.0043],[13.52,-.0034],[13.76,.0061],[13.98,-.0014],[14.21,.0033],[14.44,-.0076],[14.66,.0069],[14.89,-.0042],[15.11,.0024],[15.34,-.0088],[15.56,.0047],[15.77,-.0027],[16.01,.0058],[16.24,-.0068],[16.46,.0029],[16.68,-.0043],[16.93,.0041],[17.08,-.0021],[3.46,-.0121],[4.41,-.0103],[5.48,-.0098],[6.94,-.0112],[8.41,-.0109],[9.58,-.0117],[10.94,-.0106],[12.24,-.0109],[13.46,-.0104],[14.62,-.0113],[15.84,-.0102],[16.37,-.0114],[7.53,.0113],[9.96,.0099],[11.57,.0089],[13.86,.0086],[15.63,.0081]];
const c50 = [[6.98,.0176],[7.42,.0137],[10.3,.0122],[16.02,.0077],[7.6,.012],[6.8,.010],[8.2,.011],[9.6,.010],[10.6,.009],[3.2,-.0203],[2.87,-.0155],[4.53,-.0158],[3.0,-.014],[3.3,-.013],[3.5,-.012],[3.7,-.014],[3.9,-.011],[4.1,-.013],[4.3,-.010],[3.1,-.010],[3.4,-.0095],[3.8,-.0085],[4.2,-.0145],[4.4,-.0125],[3.6,-.0165],[4.0,-.016],[3.4,-.004],[3.8,.001],[4.5,-.006],[4.8,-.002],[5.0,.003],[5.3,-.008],[5.5,.005],[5.8,-.004],[6.0,.009],[6.2,-.010],[6.5,.006],[6.7,-.006],[7.0,.003],[7.2,-.008],[7.5,.008],[7.8,-.004],[8.0,.005],[8.3,-.009],[8.5,.002],[8.8,-.006],[9.0,.007],[9.2,-.003],[9.5,.004],[9.7,-.008],[10.0,.001],[10.2,-.010],[10.5,.005],[10.7,-.004],[11.0,.008],[11.2,-.007],[11.5,.002],[11.7,-.012],[12.0,.004],[12.2,-.005],[12.5,.007],[12.7,-.009],[13.0,.001],[13.2,-.011],[13.5,.004],[13.7,-.006],[14.0,.002],[14.2,-.009],[14.5,.005],[14.7,-.012],[15.0,-.002],[15.2,-.010],[15.5,.003],[15.7,-.007],[16.0,-.004],[16.2,-.011],[16.5,.001],[16.8,-.008],[6.9,-.012],[8.6,-.011],[10.9,-.013],[12.9,-.014],[13.9,-.013],[15.4,-.013],[16.7,-.010],[9.9,.011],[11.8,.009],[13.3,.008],[14.8,.009],[5.1,-.011],[5.9,.012],[4.7,-.009],[6.4,.002],[7.7,-.001],[9.3,.000],[11.4,-.001],[12.4,-.002],[14.3,-.001],[15.9,.000],
[3.12,-.0021],[3.38,.0032],[3.62,-.0067],[3.84,-.0018],[4.06,-.0047],[4.28,.0022],[4.47,-.0079],[4.68,.0041],[4.91,-.0056],[5.14,.0017],[5.37,-.0031],[5.58,.0062],[5.79,-.0076],[6.04,.0038],[6.27,-.0043],[6.48,-.0089],[6.71,.0027],[6.93,-.0048],[7.16,.0069],[7.38,-.0022],[7.61,.0044],[7.84,-.0081],[8.07,-.0013],[8.31,.0058],[8.53,-.0051],[8.76,.0034],[8.97,-.0094],[9.19,.0019],[9.43,-.0061],[9.66,.0072],[9.88,-.0027],[10.09,.0046],[10.33,-.0072],[10.56,.0012],[10.78,-.0049],[11.02,.0037],[11.24,-.0018],[11.47,-.0093],[11.69,.0053],[11.93,-.0036],[12.16,.0021],[12.38,-.0078],[12.63,.0043],[12.84,-.0053],[13.06,.0068],[13.29,-.0031],[13.53,-.0087],[13.74,.0017],[13.97,-.0047],[14.19,.0056],[14.42,-.0023],[14.64,-.0069],[14.87,.0031],[15.09,-.0052],[15.32,.0011],[15.54,-.0083],[15.78,.0038],[15.98,-.0061],[16.21,.0024],[16.44,-.0045],[16.66,-.0097],[16.88,.0012],[3.22,-.0118],[3.53,-.0148],[3.76,-.0127],[4.17,-.0113],[5.26,-.0124],[6.36,-.0118],[7.71,-.0112],[9.07,-.0118],[10.47,-.0121],[11.84,-.0114],[13.14,-.0127],[14.53,-.0119],[15.87,-.0124],[16.53,-.0131],[8.83,.0098],[12.08,.0091],[13.92,.0087],[15.46,.0079],[5.77,.0094],[7.27,.0102]];
const c80 = [[7.86,.0209],[8.42,.0186],[9.36,.0155],[7.86,.0178],[8.08,.0165],[7.64,.0148],[14.36,.0117],[7.8,.019],[8.3,.014],[9.0,.013],[10.0,.012],[11.3,.012],[12.5,.011],[13.5,.010],[15.2,.010],[16.3,.0095],[6.2,.013],[6.5,.011],[15.41,-.0183],[14.41,-.0143],[3.4,-.017],[4.8,-.012],[6.5,-.011],[8.0,-.012],[11.0,-.013],[12.0,-.012],[13.3,-.013],[14.0,-.014],[15.0,-.013],[16.0,-.012],[17.3,.0095],[17.6,.011],[17.9,.010],[18.3,.0105],[18.6,.0095],[18.9,.0085],[17.5,.007],[18.0,.006],[18.4,.007],[18.8,.005],[17.4,.004],[17.8,.002],[18.2,.003],[18.7,.001],[18.9,.003],[17.6,-.001],[18.1,-.002],[18.5,-.003],[18.9,-.001],[17.3,-.004],[17.8,-.005],[18.3,-.006],[18.8,-.005],[17.5,-.008],[18.0,-.008],[18.6,-.009],[18.9,-.007],[17.3,-.011],[17.8,-.012],[18.2,-.010],[18.7,-.012],[17.6,-.014],[18.3,-.014],[18.9,-.013],[17.4,-.0135],[18.6,-.0105],[3.1,-.003],[3.3,.001],[3.5,-.006],[3.7,.000],[3.9,-.004],[4.1,.002],[4.3,-.007],[4.5,.001],[4.7,-.003],[4.9,.004],[3.2,-.008],[3.6,-.010],[4.0,.004],[4.4,-.005],[5.1,-.001],[5.3,.006],[5.5,-.005],[5.7,.008],[5.9,-.002],[6.1,.005],[6.3,-.006],[6.5,.009],[6.7,.000],[6.9,.007],[7.1,-.004],[7.3,.010],[7.5,.003],[7.7,-.002],[7.9,.008],[8.1,.001],[8.3,-.005],[8.5,.006],[8.7,.010],[8.9,-.001],[9.1,.005],[9.3,-.006],[9.5,.008],[9.7,.002],[9.9,-.004],[10.1,.006],[10.3,-.001],[10.5,.010],[10.7,-.006],[10.9,.004],[11.1,-.002],[11.3,.007],[11.5,-.008],[11.7,.003],[11.9,-.004],[12.1,.008],[12.3,-.001],[12.5,-.007],[12.7,.005],[12.9,-.003],[13.1,.006],[13.3,-.008],[13.5,.002],[13.7,-.004],[13.9,.007],[14.1,-.010],[14.3,.003],[14.5,-.006],[14.7,.006],[14.9,-.002],[15.1,-.009],[15.3,.004],[15.5,-.004],[15.7,.007],[15.9,-.008],[16.1,.002],[16.3,-.005],[16.5,.006],[16.7,-.002],[16.9,.004],[17.1,-.007],[3.4,.004],[3.8,-.007],[4.2,-.001],[4.6,.006],[5.0,-.008],[5.4,.002],[5.8,-.009],[6.0,.001],[6.4,-.002],[6.8,-.008],[7.2,.005],[7.6,-.007],[8.0,.004],[8.4,.002],[8.8,-.009],[9.2,.009],[9.6,-.008],[10.0,.000],[10.4,.004],[10.8,-.010],[11.2,.009],[11.6,.001],[12.0,-.009],[12.4,.003],[12.8,-.011],[13.2,.000],[13.6,.009],[14.0,-.003],[14.4,-.011],[14.8,.008],[15.2,.001],[15.6,-.011],[16.0,.005],[16.4,-.009],[16.8,.008],[17.0,.000],[17.2,-.010],[5.2,.010],[6.6,.004],[7.4,-.009],[8.6,-.004],[9.4,-.002],[10.2,.008],[11.0,-.005],[11.8,.005],[12.6,.001],[13.4,.005],[14.2,.001],[15.0,.005],[15.8,.002],[16.6,-.006],[4.8,.000],[6.2,-.004],[7.0,.001],[9.0,.002],[10.6,.001],[12.2,.006],[13.8,-.008],[15.4,-.006],[16.2,-.001],[3.0,-.006],[3.6,.006],
[3.07,.0012],[3.29,-.0058],[3.48,-.0023],[3.67,.0028],[3.86,-.0081],[4.04,-.0037],[4.23,.0049],[4.42,-.0014],[4.63,-.0072],[4.84,.0021],[5.03,-.0043],[5.22,.0037],[5.43,-.0021],[5.63,-.0069],[5.84,.0052],[6.03,-.0033],[6.24,.0069],[6.43,-.0052],[6.62,.0023],[6.83,-.0017],[7.03,.0084],[7.22,-.0061],[7.42,.0047],[7.62,.0098],[7.83,-.0031],[8.03,.0072],[8.22,-.0078],[8.43,.0037],[8.62,-.0026],[8.83,.0089],[9.03,-.0052],[9.23,.0022],[9.42,.0113],[9.62,-.0037],[9.83,.0063],[10.03,-.0083],[10.22,.0031],[10.42,-.0049],[10.63,.0078],[10.83,-.0018],[11.03,.0046],[11.22,-.0069],[11.42,.0019],[11.62,.0087],[11.83,-.0053],[12.03,.0029],[12.22,-.0032],[12.42,.0064],[12.63,-.0091],[12.82,.0016],[13.03,-.0047],[13.22,.0081],[13.42,-.0024],[13.63,.0037],[13.83,-.0064],[14.02,.0054],[14.22,-.0028],[14.43,.0089],[14.62,-.0087],[14.83,.0026],[15.03,-.0042],[15.22,.0069],[15.42,-.0021],[15.63,-.0094],[15.83,.0043],[16.03,-.0062],[16.22,.0071],[16.43,-.0031],[16.63,.0047],[16.83,-.0083],[17.02,.0066],[17.18,-.0022],[3.16,-.0109],[3.74,-.0121],[4.58,-.0098],[5.68,-.0104],[6.78,-.0101],[7.88,-.0096],[9.18,-.0112],[10.38,-.0119],[11.48,-.0108],[12.38,-.0127],[13.58,-.0118],[14.73,-.0123],[15.93,-.0131],[16.73,-.0128],[5.49,.0092],[6.88,.0118],[8.73,.0124],[9.78,.0104],[10.78,.0094],[12.03,.0101],[13.08,.0094],[14.08,.0097],[15.58,.0086],[16.68,.0084],[7.03,.0142],[8.18,.0157],[17.47,.0021],[17.73,-.0069],[18.07,-.0124],[18.41,-.0011],[18.73,-.0083],[18.86,.0064],[17.68,.0084],[18.17,.0092],[18.54,.0048],[17.34,-.0128],[18.22,-.0049]];

// ---------- labels ----------
const panelTitles = ["(a)", "(b)", "(c)"];
const xLabel = "Radii";
const yLabelPct = "Pct(r)";
const legendAB = ["meas", "corr"];           // subscripts of T
const legendC = ["Uncorrected (3)", "35", "50", "80"];

// ---------- colours ----------
const BLACK = "#000000", GRAY = "#a9a9a9", BLUE = "#0000ff", RED = "#ff0000", GREEN = "#008000";

// ---------- layout ----------
const FONT = "DejaVu Sans";
const H = 1483, MT = 120, MB = 168;
const R = 7.2;

function richText(svg, x, y, parts, o) {
  const t = svg.append("text")
    .attr("font-family", FONT).attr("font-size", o.size).attr("fill", "black")
    .attr("text-anchor", o.anchor || "start")
    .style("white-space", "pre");
  if (o.rotate) t.attr("transform", `translate(${x},${y}) rotate(${o.rotate})`);
  else t.attr("x", x).attr("y", y);
  let shift = 0;
  for (const p of parts) {
    const s = t.append("tspan").text(p.t);
    if (p.it) s.attr("font-style", "italic");
    const target = p.sub ? o.size * (o.subShift || 0.19) : p.sup ? -o.size * 0.36 : 0;
    if (target !== shift) { s.attr("dy", target - shift); shift = target; }
    if (p.sub || p.sup) s.attr("font-size", o.size * 0.7);
  }
  return t;
}

function drawLegend(svg, off, box, items, dotX, textX, size) {
  svg.append("rect").attr("x", box[0] - off).attr("y", box[1]).attr("width", box[2]).attr("height", box[3])
    .attr("rx", 8).attr("fill", "white").attr("fill-opacity", 0.8)
    .attr("stroke", "#cccccc").attr("stroke-opacity", 0.8).attr("stroke-width", 2);
  for (const it of items) {
    svg.append("circle").attr("cx", dotX - off).attr("cy", it.cy).attr("r", 6.5).attr("fill", it.color);
    richText(svg, textX - off, it.ty, it.parts, {size, subShift: 0.15});
  }
}

function panel(cfg) {
  const plot = Plot.plot({
    width: cfg.w, height: H,
    marginLeft: cfg.ml, marginRight: cfg.mr, marginTop: MT, marginBottom: MB,
    style: {fontFamily: FONT, fontSize: "54.5px", color: "black", background: "transparent", overflow: "visible"},
    x: {domain: cfg.xd},
    y: {domain: cfg.yd},
    marks: [
      Plot.gridX({ticks: radiiTicks, stroke: "#b0b0b0", strokeOpacity: 1, strokeWidth: 2.2}),
      Plot.gridY({ticks: cfg.yt, stroke: "#b0b0b0", strokeOpacity: 1, strokeWidth: 2.2}),
      ...cfg.series.map(s => Plot.dot(s.data, {x: d => d[0], y: d => d[1], r: R, fill: s.fill})),
      Plot.axisX({ticks: radiiTicks, tickSize: 14, tickPadding: 16, strokeWidth: 2.5, tickFormat: d3.format("d"), label: null}),
      Plot.axisY({ticks: cfg.yt, tickSize: 14, tickPadding: 16, strokeWidth: 2.5, tickFormat: d3.format(cfg.yf), label: null}),
      Plot.frame({stroke: "black", strokeWidth: 2.5})
    ]
  });
  const div = document.createElement("div");
  div.className = "panel";
  div.style.left = cfg.off + "px";
  div.style.width = cfg.w + "px";
  div.appendChild(plot);
  document.getElementById("wrap").appendChild(div);
  const svg = d3.select(plot);
  const left = cfg.ml, right = cfg.w - cfg.mr;
  richText(svg, left + 1, 97, [{t: cfg.title}], {size: 78});
  richText(svg, (left + right) / 2, 1463, [{t: xLabel}], {size: 62, anchor: "middle"});
  richText(svg, cfg.ylx - cfg.off, (MT + H - MB) / 2, cfg.ylab, {size: 62, anchor: "middle", rotate: -90});
  cfg.legend(svg, cfg.off);
}

const tMeasLabel = [{t: "T", it: true}, {t: "meas", it: true, sub: true}, {t: " "}, {t: "\u2218", sup: true}, {t: "C"}];

panel({
  off: 0, w: 900, ml: 274, mr: 23, xd: [2.24, 17.55], yd: [46.743, 50.402], yt: tempTicks, yf: ".1f",
  series: [{data: aMeas, fill: BLACK}, {data: aCorr, fill: GRAY}],
  title: panelTitles[0], ylab: tMeasLabel, ylx: 82,
  legend: (svg, off) => drawLegend(svg, off, [585, 1143, 269, 153], [
    {color: BLACK, cy: 1180, ty: 1193, parts: [{t: "T", it: true}, {t: legendAB[0], it: true, sub: true}]},
    {color: GRAY, cy: 1249, ty: 1264, parts: [{t: "T", it: true}, {t: legendAB[1], it: true, sub: true}]}
  ], 646, 728, 40)
});

panel({
  off: 900, w: 900, ml: 278, mr: 22, xd: [2.2, 17.58], yd: [-0.0269, 0.1208], yt: pctTicks, yf: ".2f",
  series: [{data: bMeas, fill: BLACK}, {data: bCorr, fill: GRAY}],
  title: panelTitles[1], ylab: [{t: yLabelPct}], ylx: 949,
  legend: (svg, off) => drawLegend(svg, off, [1489, 141, 269, 151], [
    {color: BLACK, cy: 179, ty: 193, parts: [{t: "T", it: true}, {t: legendAB[0], it: true, sub: true}]},
    {color: GRAY, cy: 249, ty: 263, parts: [{t: "T", it: true}, {t: legendAB[1], it: true, sub: true}]}
  ], 1550, 1631, 40)
});

const ttParts = v => [{t: "T", it: true}, {t: "T", it: true, sub: true}, {t: " = " + v + " "}, {t: "\u2218", sup: true}, {t: " C"}];

panel({
  off: 1800, w: 905, ml: 281, mr: 27, xd: [2.12, 19.43], yd: [-0.0293, 0.1291], yt: pctTicks, yf: ".2f",
  series: [{data: cUncorrected, fill: BLACK}, {data: c35, fill: BLUE}, {data: c50, fill: RED}, {data: c80, fill: GREEN}],
  title: panelTitles[2], ylab: tMeasLabel, ylx: 1842,
  legend: (svg, off) => drawLegend(svg, off, [2083, 145, 573, 335], [
    {color: BLACK, cy: 187, ty: 202, parts: [{t: legendC[0]}]},
    {color: BLUE, cy: 265, ty: 278, parts: ttParts(legendC[1])},
    {color: RED, cy: 348, ty: 361, parts: ttParts(legendC[2])},
    {color: GREEN, cy: 430, ty: 443, parts: ttParts(legendC[3])}
  ], 2149, 2241, 50.5)
});
</script>
</body></html>
